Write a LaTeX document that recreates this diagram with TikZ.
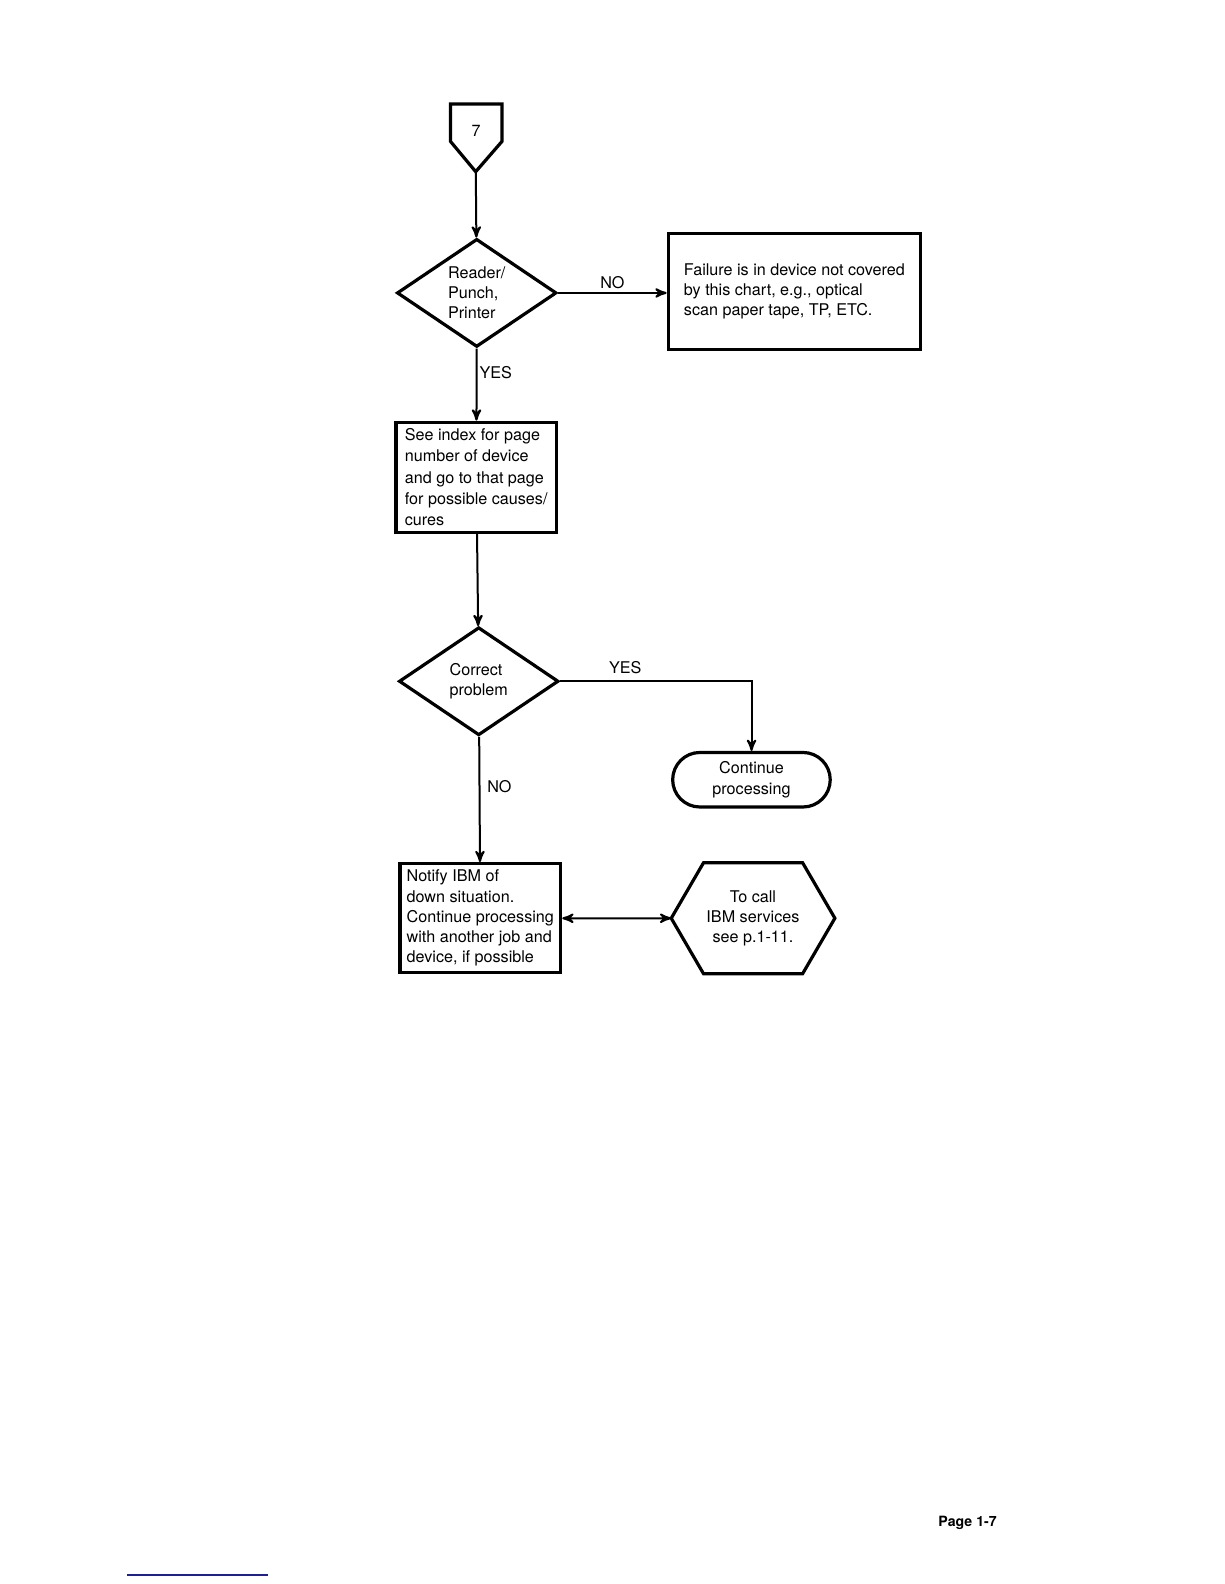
\documentclass[tikz,border=0pt]{standalone}
\usepackage{fontspec}
\setmainfont{TeX Gyre Heros}
\usepackage{tikz}
\usetikzlibrary{arrows}
\usetikzlibrary{shapes.geometric,shapes.misc,calc}

\begin{document}
\begin{tikzpicture}[scale=1.01,every node/.append style={transform shape},
		x=0.5pt,y=-0.5pt,>=stealth',line width=1pt,
		font=\fontsize{8}{10}\selectfont,
		box node/.style={rectangle,draw,line width=1.6pt,align=left,inner sep=0pt},
		decision node/.style={diamond,draw,line width=1.6pt,align=left,inner sep=0pt,
			aspect=1.5,minimum width=79pt,minimum height=53.5pt},
		end node/.style={rounded rectangle,draw,line width=1.6pt,align=center,
			inner sep=0pt,minimum width=78pt,minimum height=27pt}]
	
	\useasboundingbox (0,0) rectangle (1211.9,1568.3);
	
	% off-page connector
	\draw[line width=1.6pt] (446,103) -- (497,103) -- (497,140) -- (471,170) -- (446,140) -- cycle;
	\node (A) at (471.5,130) {7};
	\coordinate (A0) at (471,170);
	
	\node[decision node] (B) at (472,290) {Reader/\\Punch,\\Printer};
	\node[box node,minimum width=125pt,minimum height=57.5pt] (C) at (786.5,288.5)
		{Failure is in device not covered\\by this chart, e.g., optical\\scan paper tape, TP, ETC.};
	\node[box node,minimum width=79.5pt,minimum height=54.5pt,
		font=\fontsize{8}{10.5}\selectfont] (D) at (471.5,472.5)
		{See index for page\\number of device\\and go to that page\\for possible causes/\\cures};
	\node[decision node] (E) at (474,674.5) {Correct\\problem};
	\node[end node] (F) at (744,772) {Continue\\processing};
	\node[box node,minimum width=79.5pt,minimum height=54pt] (G) at (475.5,909)
		{Notify IBM of\\down situation.\\Continue processing\\with another job and\\device, if possible};
	\node[align=center,inner sep=0pt,minimum width=80pt,minimum height=54pt] (H) at (745.5,909)
		{To call\\IBM services\\see p.1-11.};
	% hexagon round H
	\draw[line width=1.6pt] (H.west) -- ($(H.north west)+(32,0)$) -- ($(H.north east)+(-32,0)$)
		-- (H.east) -- ($(H.south east)+(-32,0)$) -- ($(H.south west)+(32,0)$) -- cycle;
	
	\path[->,every node/.style={font=\fontsize{8}{10}\selectfont,transform shape}]
	(A0) edge (B)
	(B.east) edge node[above,inner sep=1.5pt] {NO} (B.east -| C.west)
	(B) edge node[pos=0.33,right,inner sep=1pt] {YES} (D)
	(D) edge (E)
	(E) edge node[pos=0.4,right] {NO} (G)
	(G) edge[<->] (H);
	\draw[->] (E.east) -| node[pos=0.17,above] {YES} (F.north);
	
	% page number
	\node[font=\bfseries\fontsize{7}{8}\selectfont] (P) at (958,1508) {Page 1-7};
	\draw[color={rgb,255:red,30;green,30;blue,150}] (125.7,1559) -- (265.3,1559);
\end{tikzpicture}
\end{document}
